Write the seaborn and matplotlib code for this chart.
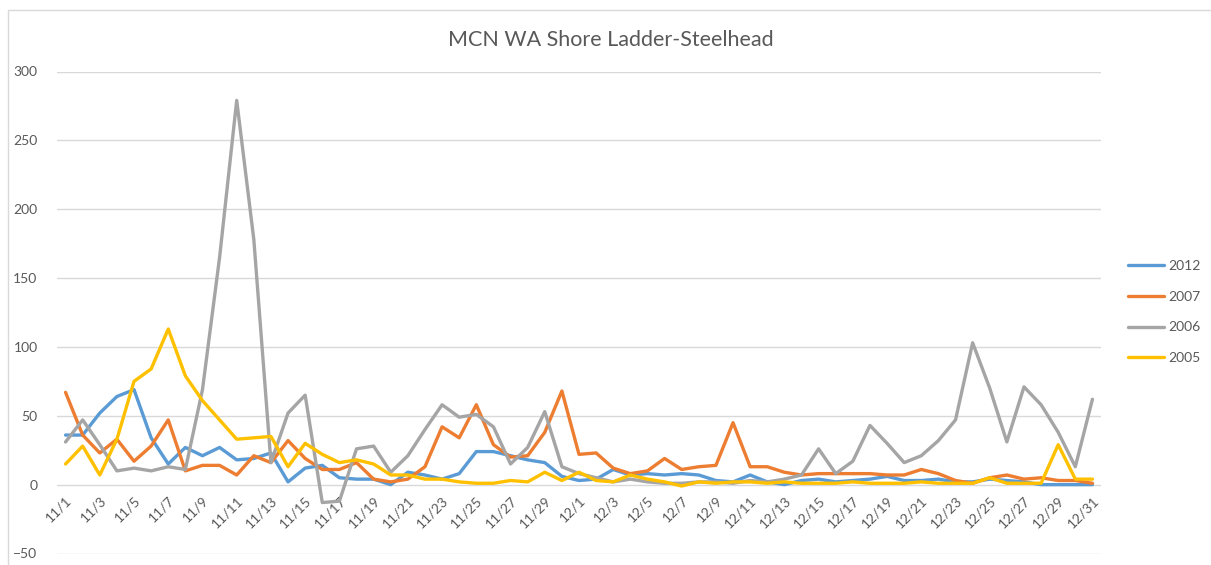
import pandas as pd
import matplotlib.pyplot as plt
import seaborn as sns
from matplotlib.lines import Line2D

# daily counts 11/1 .. 12/31
dates = [f"11/{d}" for d in range(1, 31)] + [f"12/{d}" for d in range(1, 32)]

s2012 = [36, 36, 52, 64, 69, 34, 15, 27, 21, 27, 18, 19, 23, 2, 12, 14, 5, 4, 4, 0,
         9, 7, 4, 8, 24, 24, 21, 18, 16, 6, 3, 4, 11, 7, 8, 7, 8, 7, 3, 2,
         7, 2, 0, 3, 4, 2, 3, 4, 6, 3, 3, 4, 2, 2, 4, 3, 2, 0, 0, 0, 0]
s2007 = [67, 36, 23, 33, 17, 28, 47, 10, 14, 14, 7, 21, 16, 32, 19, 11, 11, 16, 4, 2,
         4, 13, 42, 34, 58, 29, 20, 21, 38, 68, 22, 23, 12, 8, 10, 19, 11, 13, 14, 45,
         13, 13, 9, 7, 8, 8, 8, 8, 7, 7, 11, 8, 3, 1, 5, 7, 4, 5, 3, 3, 1]
s2006 = [31, 47, 29, 10, 12, 10, 13, 11, 69, 165, 279, 178, 16, 52, 65, -13, -12, 26, 28, 9,
         21, 40, 58, 49, 51, 42, 15, 27, 53, 13, 8, 5, 2, 4, 2, 1, 1, 2, 2, 1,
         3, 2, 4, 7, 26, 8, 17, 43, 30, 16, 21, 32, 47, 103, 70, 31, 71, 58, 38, 13, 62]
s2005 = [15, 28, 7, 33, 75, 84, 113, 79, 61, 47, 33, 34, 35, 13, 30, 22, 16, 18, 15, 7,
         7, 4, 4, 2, 1, 1, 3, 2, 9, 3, 9, 3, 2, 7, 4, 2, -1, 2, 1, 2,
         2, 1, 2, 1, 1, 1, 2, 1, 1, 1, 2, 1, 1, 1, 5, 1, 1, 1, 29, 4, 4]

years = ["2012", "2007", "2006", "2005"]
colors = ["#5B9BD5", "#ED7D31", "#A5A5A5", "#FFC000"]

rows = []
for yr, vals in zip(years, [s2012, s2007, s2006, s2005]):
    for i, v in enumerate(vals):
        rows.append({"day": i, "count": v, "Year": yr})
df = pd.DataFrame(rows)

sns.set_style("white")
plt.rcParams['font.family'] = ['Lato', 'DejaVu Sans']

fig = plt.figure(figsize=(12.11, 5.65), dpi=100)
ax = fig.add_axes([57 / 1211, 11.5 / 565, 1044 / 1211, 482 / 565])

sns.lineplot(data=df, x="day", y="count", hue="Year", hue_order=years,
             palette=dict(zip(years, colors)), linewidth=2.4, ax=ax,
             legend=False)

ax.set_xlim(-0.5, len(dates) - 0.5)
ax.set_ylim(-50, 300)
ax.set_yticks(range(-50, 301, 50))
ax.yaxis.grid(True, color="#D9D9D9", linewidth=1)
ax.set_axisbelow(True)
for s in ax.spines.values():
    s.set_visible(False)
# category axis crosses at zero
ax.spines["bottom"].set_position(("data", 0))

ax.set_xticks(range(0, len(dates), 2))
ax.set_xticklabels(dates[::2], rotation=45, ha="right", rotation_mode="anchor")
ax.tick_params(axis="both", length=0, labelsize=10, labelcolor="#595959")
ax.tick_params(axis="x", pad=7)
ax.tick_params(axis="y", pad=14)
ax.set_xlabel("")
ax.set_ylabel("")

fig.text(611 / 1211, 1 - 40 / 565, "MCN WA Shore Ladder-Steelhead",
         ha="center", va="center", fontsize=15.5, color="#595959")

handles = [Line2D([0], [0], color=c, lw=2.4) for c in colors]
fig.legend(handles, years, loc="center left",
           bbox_to_anchor=(1128 / 1211, 1 - 312 / 565), frameon=False,
           fontsize=10, labelcolor="#595959", handlelength=2.6,
           handletextpad=0.3, labelspacing=1.35, borderpad=0, borderaxespad=0)

# chart area border
fig.add_artist(Line2D([8 / 1211, 1], [1 - 10 / 565, 1 - 10 / 565],
                      color="#D9D9D9", lw=1, transform=fig.transFigure))
fig.add_artist(Line2D([8 / 1211, 8 / 1211], [0, 1 - 10 / 565],
                      color="#D9D9D9", lw=1, transform=fig.transFigure))

fig.savefig("out.png", dpi=100)
